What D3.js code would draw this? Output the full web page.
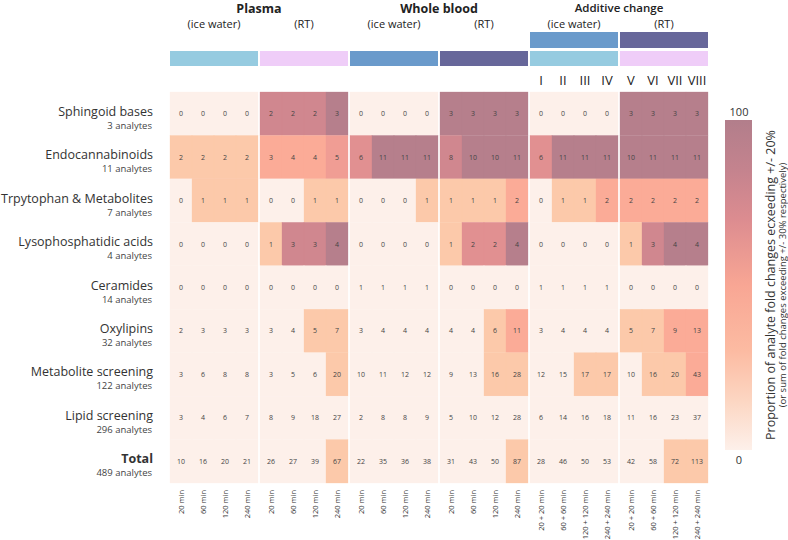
<!DOCTYPE html>
<html>
<head>
<meta charset="utf-8">
<script src="https://cdn.jsdelivr.net/npm/d3@7"></script>
<style>
  body { margin: 0; background: #fff; }
  svg { display: block; font-family: "Open Sans", "Noto Sans", sans-serif; }
</style>
</head>
<body>
<svg id="chart" width="788" height="540"></svg>
<script>
// ---------- DATA ----------
const categories = ["Sphingoid bases", "Endocannabinoids", "Trpytophan & Metabolites",
  "Lysophosphatidic acids", "Ceramides", "Oxylipins", "Metabolite screening",
  "Lipid screening", "Total"];
const analyteCounts = [3, 11, 7, 4, 14, 32, 122, 296, 489];

const groups = ["Plasma ice", "Plasma RT", "WB ice", "WB RT", "Add ice", "Add RT"];
const timeLabels = ["20 min", "60 min", "120 min", "240 min"];
const additiveTimeLabels = ["20 + 20 min", "60 + 60 min", "120 + 120 min", "240 + 240 min"];
const romanLabels = ["I", "II", "III", "IV", "V", "VI", "VII", "VIII"];

// counts of analytes exceeding threshold, 24 columns per row
const sphingoidValues   = [0,0,0,0, 2,2,2,3, 0,0,0,0, 3,3,3,3, 0,0,0,0, 3,3,3,3];
const endocannValues    = [2,2,2,2, 3,4,4,5, 6,11,11,11, 8,10,10,11, 6,11,11,11, 10,11,11,11];
const tryptophanValues  = [0,1,1,1, 0,0,1,1, 0,0,0,1, 1,1,1,2, 0,1,1,2, 2,2,2,2];
const lpaValues         = [0,0,0,0, 1,3,3,4, 0,0,0,0, 1,2,2,4, 0,0,0,0, 1,3,4,4];
const ceramideValues    = [0,0,0,0, 0,0,0,0, 1,1,1,1, 0,0,0,0, 1,1,1,1, 0,0,0,0];
const oxylipinValues    = [2,3,3,3, 3,4,5,7, 3,4,4,4, 4,4,6,11, 3,4,4,4, 5,7,9,13];
const metaboliteValues  = [3,6,8,8, 3,5,6,20, 10,11,12,12, 9,13,16,28, 12,15,17,17, 10,16,20,43];
const lipidValues       = [3,4,6,7, 8,9,18,27, 2,8,8,9, 5,10,12,28, 6,14,16,18, 11,16,23,37];
const totalValues       = [10,16,20,21, 26,27,39,67, 22,35,36,38, 31,43,50,87, 28,46,50,53, 42,58,72,113];

const rowValues = [sphingoidValues, endocannValues, tryptophanValues, lpaValues,
  ceramideValues, oxylipinValues, metaboliteValues, lipidValues, totalValues];

// ---------- SCALES ----------
const svg = d3.select("#chart");

const gx = d3.scaleBand().domain(groups).range([170, 708]).paddingInner(2 / 90).paddingOuter(0);
const cx = d3.scaleBand().domain(d3.range(4)).range([0, gx.bandwidth()]);
const y = d3.scaleBand().domain(categories).range([92, 483]);

const colX = i => gx(groups[Math.floor(i / 4)]) + cx(i % 4);

const color = d3.scaleThreshold()
  .domain([12.6, 26, 42, 48, 60, 80])
  .range(["#fdf0ea", "#fcc9aa", "#fbab97", "#f09d94", "#e19091", "#d0878f", "#b67f8c"]);

// ---------- HEADER ----------
const groupColors = { "Plasma ice": "#96cbe0", "Plasma RT": "#efcdf8", "WB ice": "#6a9acb", "WB RT": "#67679a",
  "Add ice": "#96cbe0", "Add RT": "#efcdf8" };
const addTopColors = { "Add ice": "#6a9acb", "Add RT": "#67679a" };

svg.append("g").selectAll("rect").data(groups).join("rect")
  .attr("x", d => gx(d)).attr("y", 51).attr("width", gx.bandwidth()).attr("height", 15)
  .attr("fill", d => groupColors[d]);

svg.append("g").selectAll("rect").data(["Add ice", "Add RT"]).join("rect")
  .attr("x", d => gx(d)).attr("y", 32).attr("width", gx.bandwidth()).attr("height", 16)
  .attr("fill", d => addTopColors[d]);

const hdr = svg.append("g").attr("fill", "#222");
const mid2 = (a, b) => (gx(a) + gx(b) + gx.bandwidth()) / 2;
hdr.append("text").attr("x", mid2("Plasma ice", "Plasma RT")).attr("y", 13)
  .attr("text-anchor", "middle").attr("font-size", 12.5).attr("font-weight", 700).text("Plasma");
hdr.append("text").attr("x", mid2("WB ice", "WB RT")).attr("y", 13)
  .attr("text-anchor", "middle").attr("font-size", 12.5).attr("font-weight", 700).text("Whole blood");
hdr.append("text").attr("x", mid2("Add ice", "Add RT")).attr("y", 12)
  .attr("text-anchor", "middle").attr("font-size", 11.5).attr("font-weight", 600).text("Additive change");

const subHdr = ["(ice water)", "(RT)", "(ice water)", "(RT)", "(ice water)", "(RT)"];
hdr.selectAll("text.sub").data(groups).join("text").attr("class", "sub")
  .attr("x", d => gx(d) + gx.bandwidth() / 2).attr("y", 28)
  .attr("text-anchor", "middle").attr("font-size", 11)
  .text((d, i) => subHdr[i]);

hdr.selectAll("text.roman").data(romanLabels).join("text").attr("class", "roman")
  .attr("x", (d, i) => colX(16 + i) + cx.bandwidth() / 2).attr("y", 85)
  .attr("text-anchor", "middle").attr("font-size", 13).text(d => d);

// ---------- CELLS ----------
const cells = [];
rowValues.forEach((vals, r) => vals.forEach((v, c) => cells.push({ r, c, v, p: v / analyteCounts[r] * 100 })));

const cellG = svg.append("g");
cellG.selectAll("rect").data(cells).join("rect")
  .attr("x", d => colX(d.c)).attr("y", d => y(categories[d.r]))
  .attr("width", cx.bandwidth()).attr("height", y.bandwidth())
  .attr("fill", d => color(d.p)).attr("stroke", d => color(d.p)).attr("stroke-width", 0.3);

cellG.selectAll("text").data(cells).join("text")
  .attr("x", d => colX(d.c) + cx.bandwidth() / 2)
  .attr("y", d => y(categories[d.r]) + y.bandwidth() / 2 + 2.5)
  .attr("text-anchor", "middle").attr("font-size", 7).attr("fill", "#444")
  .text(d => d.v);

// ---------- ROW LABELS ----------
const lab = svg.append("g");
lab.selectAll("text.main").data(categories).join("text").attr("class", "main")
  .attr("x", 153).attr("y", d => y(d) + y.bandwidth() / 2 + 2)
  .attr("text-anchor", "end").attr("font-size", 12.5).attr("fill", "#333")
  .attr("font-weight", d => d === "Total" ? 700 : 400)
  .text(d => d);
lab.selectAll("text.sub").data(categories).join("text").attr("class", "sub")
  .attr("x", 152).attr("y", d => y(d) + y.bandwidth() / 2 + 15)
  .attr("text-anchor", "end").attr("font-size", 9.5).attr("fill", "#444")
  .text((d, i) => analyteCounts[i] + " analytes");

// ---------- BOTTOM LABELS ----------
const bottomLabels = d3.range(24).map(i => i < 16 ? timeLabels[i % 4] : additiveTimeLabels[i % 4]);
svg.append("g").selectAll("text").data(bottomLabels).join("text")
  .attr("transform", (d, i) => `translate(${colX(i) + cx.bandwidth() / 2 + 2.5},490) rotate(-90)`)
  .attr("text-anchor", "end").attr("font-size", 7.5).attr("fill", "#333")
  .text(d => d);

// ---------- COLOR BAR ----------
const defs = svg.append("defs");
const grad = defs.append("linearGradient").attr("id", "cbar").attr("x1", 0).attr("y1", 1).attr("x2", 0).attr("y2", 0);
const gradStops = [[0, "#fdf0ea"], [0.15, "#fcd6c2"], [0.3, "#fcbba2"], [0.5, "#f8a694"], [0.7, "#dc8c90"], [0.85, "#c4838e"], [1, "#b27e8b"]];
grad.selectAll("stop").data(gradStops).join("stop")
  .attr("offset", d => d[0]).attr("stop-color", d => d[1]);

const cbY = d3.scaleLinear().domain([0, 100]).range([450, 120]);
svg.append("rect").attr("x", 725).attr("y", cbY(100)).attr("width", 27).attr("height", cbY(0) - cbY(100))
  .attr("fill", "url(#cbar)");
svg.append("text").attr("x", 739).attr("y", cbY(100) - 4).attr("text-anchor", "middle")
  .attr("font-size", 11).attr("fill", "#333").text("100");
svg.append("text").attr("x", 739).attr("y", cbY(0) + 14).attr("text-anchor", "middle")
  .attr("font-size", 11).attr("fill", "#333").text("0");

svg.append("text").attr("transform", `translate(775,${(cbY(0) + cbY(100)) / 2}) rotate(-90)`)
  .attr("text-anchor", "middle").attr("font-size", 12.5).attr("fill", "#333")
  .text("Proportion of analyte fold changes ecxeeding +/- 20%");
svg.append("text").attr("transform", `translate(786,${(cbY(0) + cbY(100)) / 2}) rotate(-90)`)
  .attr("text-anchor", "middle").attr("font-size", 9.5).attr("fill", "#333")
  .text("(or sum of fold changes exceeding +/- 30% respectively)");
</script>
</body>
</html>
